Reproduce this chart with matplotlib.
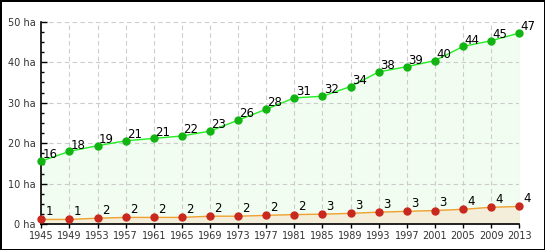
import numpy as np
import matplotlib.pyplot as plt
from matplotlib.ticker import MultipleLocator

years = [1945, 1949, 1953, 1957, 1961, 1965, 1969, 1973, 1977,
         1981, 1985, 1989, 1993, 1997, 2001, 2005, 2009, 2013]
green_vals = [15.6, 18.0, 19.4, 20.6, 21.2, 21.8, 23.0, 25.7, 28.4,
              31.2, 31.6, 34.0, 37.6, 38.9, 40.4, 43.9, 45.3, 47.2]
green_labels = [16, 18, 19, 21, 21, 22, 23, 26, 28, 31, 32, 34, 38, 39, 40, 44, 45, 47]
red_vals = [1.2, 1.2, 1.5, 1.7, 1.7, 1.7, 2.0, 2.0, 2.2,
            2.4, 2.5, 2.7, 3.0, 3.2, 3.4, 3.7, 4.2, 4.4]
red_labels = [1, 1, 2, 2, 2, 2, 2, 2, 2, 2, 3, 3, 3, 3, 3, 4, 4, 4]
yticks = [0, 10, 20, 30, 40, 50]

fig = plt.figure(figsize=(5.45, 2.5), dpi=100, facecolor='white',
                 edgecolor='black', linewidth=2)
ax = fig.add_axes([0.0758, 0.1028, 0.877, 0.8104])

# fills
ax.fill_between(years, 0, green_vals, color='#f0fdf0', zorder=1)
ax.fill_between(years, 0, red_vals, color='#f3eed9', zorder=1.5)

# grid
for yr in years[1:]:
    ax.axvline(yr, color='#cccccc', lw=0.8, ls=(0, (4, 3)), zorder=1.2)
for v in yticks[1:]:
    ax.axhline(v, color='#cccccc', lw=0.8, ls=(0, (4, 3)), zorder=1.2)

ax.plot(years, green_vals, color='#22ee22', lw=1, zorder=3)
ax.plot(years, green_vals, 'o', color='#11b411', ms=5, zorder=4, clip_on=False)
ax.plot(years, red_vals, color='#f0a030', lw=1, zorder=3)
ax.plot(years, red_vals, 'o', color='#c8281e', ms=5, zorder=4, clip_on=False)

for x, v, t in zip(years, green_vals, green_labels):
    ax.annotate(str(t), (x, v), xytext=(1, 2), textcoords='offset points',
                fontsize=8.5, color='black', zorder=5, annotation_clip=False)
for x, v, t in zip(years, red_vals, red_labels):
    ax.annotate(str(t), (x, v), xytext=(3, 3), textcoords='offset points',
                fontsize=8.5, color='black', zorder=5, annotation_clip=False)

ax.set_xlim(1945, 2013)
ax.set_ylim(0, 50)
ax.set_xticks(years)
ax.set_xticklabels([str(y) for y in years], fontsize=7, color='#333333')
ax.set_yticks(yticks)
ax.set_yticklabels([f'{v} ha' for v in yticks], fontsize=7, color='#333333')
ax.yaxis.set_minor_locator(MultipleLocator(2.5))
ax.tick_params(axis='y', which='major', direction='in', length=4, width=1, pad=4)
ax.tick_params(axis='y', which='minor', direction='in', length=2.5, width=1)
ax.tick_params(axis='x', direction='out', length=3, width=1, pad=1.5)

for s in ['top', 'right']:
    ax.spines[s].set_visible(False)
for s in ['left', 'bottom']:
    ax.spines[s].set_linewidth(1.2)
    ax.spines[s].set_zorder(3.5)
ax.set_facecolor('white')

fig.savefig('out.png', dpi=100, facecolor='white', edgecolor='black')
